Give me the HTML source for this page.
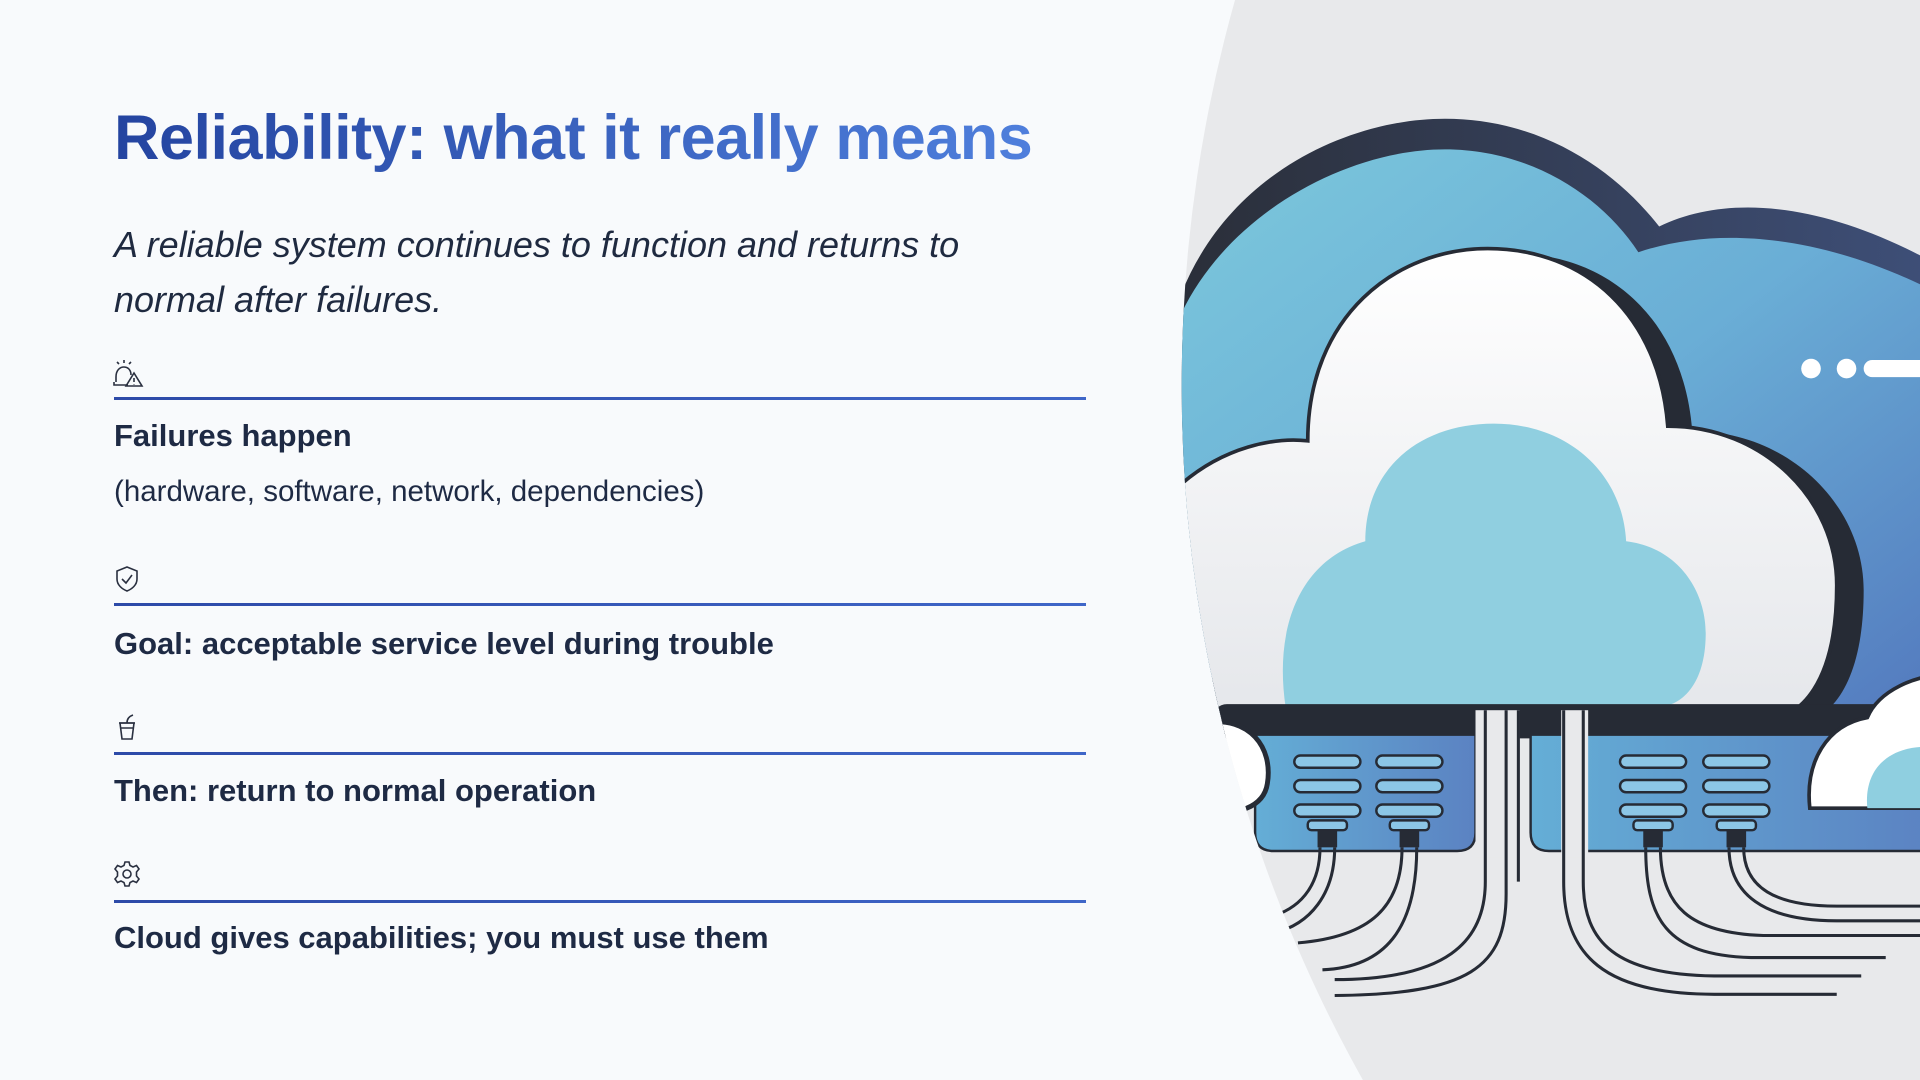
<!DOCTYPE html>
<html><head><meta charset="utf-8"><style>
html,body{margin:0;padding:0;width:1920px;height:1080px;overflow:hidden;background:#f8fafc;font-family:"Liberation Sans",sans-serif;}
.abs{position:absolute;}
h1{position:absolute;left:114px;top:103px;margin:0;font-size:63px;font-weight:bold;letter-spacing:-0.5px;line-height:70px;white-space:nowrap;
 background:linear-gradient(90deg,#2444a0,#4f7fdc);-webkit-background-clip:text;background-clip:text;color:transparent;}
.sub{position:absolute;left:114px;top:217px;font-size:36px;font-style:italic;color:#1f2a40;line-height:55px;white-space:nowrap;}
.line{position:absolute;left:114px;width:972px;height:3px;background:linear-gradient(90deg,#2d4aa8,#3f66c8);}
.t{position:absolute;left:114px;font-size:31px;font-weight:bold;color:#1e2a44;white-space:nowrap;line-height:36px;}
.s{position:absolute;left:114px;font-size:29.5px;color:#1e2a44;white-space:nowrap;line-height:34px;}
.ic{position:absolute;left:112px;}
</style></head><body>
<svg class="abs" style="left:0;top:0" width="1920" height="1080" viewBox="0 0 1568 882">
<defs>
<clipPath id="c"><circle cx="2125" cy="315" r="1160"/></clipPath>
<linearGradient id="bl" x1="0" y1="0" x2="1" y2="1"><stop offset="0" stop-color="#7cc8dc"/><stop offset="0.5" stop-color="#6aaed6"/><stop offset="1" stop-color="#5277bd"/></linearGradient>
<linearGradient id="dk" x1="0" x2="1"><stop offset="0" stop-color="#2a2e38"/><stop offset="1" stop-color="#3e4f78"/></linearGradient>
<linearGradient id="pn" x1="0" x2="1"><stop offset="0" stop-color="#64aed6"/><stop offset="1" stop-color="#5b82c2"/></linearGradient>
<linearGradient id="wh" x1="0" y1="0" x2="0" y2="1"><stop offset="0" stop-color="#ffffff"/><stop offset="1" stop-color="#e4e6ea"/></linearGradient>
</defs>
<g clip-path="url(#c)">
<rect x="900" y="0" width="700" height="882" fill="#e8e9eb"/>
<path d="M955,270 C985,150 1095,97 1180,97 C1260,97 1320,140 1355,185 C1410,158 1490,165 1580,215 L1580,600 L955,600 Z" fill="url(#dk)"/>
<path d="M962,262 C1000,175 1100,122 1180,122 C1250,122 1308,160 1338,206 C1400,185 1485,190 1580,238 L1580,600 L962,600 Z" fill="url(#bl)"/>
<path d="M990,600 L990,400 C1020,370 1060,360 1088,362 C1088,262 1160,207 1235,207 C1315,207 1375,262 1382,352 C1460,352 1522,412 1522,482 C1522,562 1492,592 1462,592 Z" fill="#262b35"/>
<path d="M965,600 L965,395 C1000,365 1040,357 1068,360 C1068,258 1140,203 1215,203 C1295,203 1355,258 1362,348 C1440,348 1500,408 1500,478 C1500,558 1470,588 1440,588 Z" fill="url(#wh)" stroke="#262b35" stroke-width="3"/>
<path d="M1050,578 C1040,512 1062,457 1115,442 C1115,382 1160,346 1220,346 C1280,346 1325,386 1328,442 C1370,447 1393,482 1393,517 C1393,557 1375,578 1350,578 Z" fill="#90cfe0"/>
<rect x="990" y="575" width="590" height="28" rx="12" fill="#262b35"/>
<path d="M1025,600 L1205,600 L1205,680 Q1205,695 1190,695 L1040,695 Q1025,695 1025,680 Z" fill="url(#pn)" stroke="#262b35" stroke-width="2"/>
<path d="M1250,600 L1580,600 L1580,695 L1265,695 Q1250,695 1250,680 Z" fill="url(#pn)" stroke="#262b35" stroke-width="2"/>
<path d="M985,665 L985,590 C1020,585 1040,610 1035,640 C1032,660 1010,665 985,665Z" fill="#fff" stroke="#262b35" stroke-width="4"/>
<path d="M1478,660 C1474,622 1492,592 1525,586 C1535,562 1568,552 1580,552 L1580,660 Z" fill="#fff" stroke="#262b35" stroke-width="3"/>
<path d="M1525,660 C1522,630 1540,612 1568,610 L1580,610 L1580,660 Z" fill="#8fcfe0"/>
<g fill="#8cc6e6" stroke="#262b35" stroke-width="2">
<rect x="1057" y="617" width="54" height="10" rx="5"/><rect x="1057" y="637" width="54" height="10" rx="5"/><rect x="1057" y="657" width="54" height="10" rx="5"/>
<rect x="1124" y="617" width="54" height="10" rx="5"/><rect x="1124" y="637" width="54" height="10" rx="5"/><rect x="1124" y="657" width="54" height="10" rx="5"/>
<rect x="1323" y="617" width="54" height="10" rx="5"/><rect x="1323" y="637" width="54" height="10" rx="5"/><rect x="1323" y="657" width="54" height="10" rx="5"/>
<rect x="1391" y="617" width="54" height="10" rx="5"/><rect x="1391" y="637" width="54" height="10" rx="5"/><rect x="1391" y="657" width="54" height="10" rx="5"/>
<rect x="1068" y="670" width="32" height="8" rx="3"/><rect x="1135" y="670" width="32" height="8" rx="3"/><rect x="1334" y="670" width="32" height="8" rx="3"/><rect x="1402" y="670" width="32" height="8" rx="3"/>
</g>
<g fill="#262b35"><rect x="1076" y="678" width="16" height="14"/><rect x="1143" y="678" width="16" height="14"/><rect x="1342" y="678" width="16" height="14"/><rect x="1410" y="678" width="16" height="14"/></g>
<rect x="1205" y="580" width="36" height="120" fill="#e8e9eb"/>
<rect x="1275" y="580" width="22" height="120" fill="#e8e9eb"/>
<g fill="none" stroke="#262b35" stroke-width="2.5">
<path d="M1078,692 C1078,720 1065,740 1040,748"/><path d="M1090,692 C1090,730 1070,755 1040,762"/>
<path d="M1145,692 C1145,740 1120,765 1060,770"/><path d="M1157,692 C1157,760 1130,790 1080,792"/>
<path d="M1213,580 L1213,720 C1213,770 1180,800 1090,800"/><path d="M1230,580 L1230,730 C1230,790 1200,812 1090,813"/><path d="M1240,580 L1240,720"/>
<path d="M1277,580 L1277,720 C1277,780 1310,812 1400,812 L1500,812"/><path d="M1293,580 L1293,720 C1293,770 1320,796 1400,797 L1520,797"/>
<path d="M1344,692 C1344,750 1360,780 1430,782 L1540,782"/><path d="M1356,692 C1356,740 1380,762 1440,764 L1580,764"/>
<path d="M1412,692 C1412,730 1440,752 1500,752 L1580,752"/><path d="M1424,692 C1424,725 1450,740 1500,740 L1580,740"/>
</g>
<g fill="#fff"><circle cx="1479" cy="301" r="8"/><circle cx="1508" cy="301" r="8"/><rect x="1522" y="294" width="60" height="14" rx="7"/></g>
</g>
</svg>

<h1>Reliability: what it really means</h1>
<div class="sub">A reliable system continues to function and returns to<br>normal after failures.</div>

<svg class="ic" style="top:358px" width="32" height="32" viewBox="0 0 32 32" fill="none" stroke="#2a3040" stroke-width="1.6"><path d="M4,24 L4,19 C4,12 8,9 12,9 C16,9 19,12 19,17"/><path d="M2,24 L2,27 L16,27"/><path d="M12,2 L12,5 M5,4 L7,6 M19,4 L17,6"/><path d="M22,15 L30,28 L14,28 Z"/><path d="M22,20 L22,24 M22,26 L22,26.5"/></svg>
<div class="line" style="top:397px"></div>
<div class="t" style="top:418px">Failures happen</div>
<div class="s" style="top:475px">(hardware, software, network, dependencies)</div>

<svg class="ic" style="top:564px" width="30" height="30" viewBox="0 0 30 30" fill="none" stroke="#2a3040" stroke-width="1.6"><path d="M15,3 L25,7 L25,15 C25,21 20,25 15,27 C10,25 5,21 5,15 L5,7 Z"/><path d="M10,15 L14,19 L20,11"/></svg>
<div class="line" style="top:603px"></div>
<div class="t" style="top:626px">Goal: acceptable service level during trouble</div>

<svg class="ic" style="top:712px" width="30" height="30" viewBox="0 0 30 30" fill="none" stroke="#2a3040" stroke-width="1.6"><path d="M8,11 L22,11 L20,27 L10,27 Z"/><path d="M7,11 L23,11 M9,16 L21,16"/><path d="M15,11 C15,6 18,4 21,3"/></svg>
<div class="line" style="top:752px"></div>
<div class="t" style="top:773px">Then: return to normal operation</div>

<svg class="ic" style="top:859px" width="30" height="30" viewBox="0 0 30 30" fill="none" stroke="#2a3040" stroke-width="1.6"><circle cx="15" cy="15" r="4"/><path d="M13,3 L17,3 L18,6.5 L21,8 L24.5,6.5 L27,10 L24.5,13 L24.5,17 L27,20 L24.5,23.5 L21,22 L18,23.5 L17,27 L13,27 L12,23.5 L9,22 L5.5,23.5 L3,20 L5.5,17 L5.5,13 L3,10 L5.5,6.5 L9,8 L12,6.5 Z"/></svg>
<div class="line" style="top:900px"></div>
<div class="t" style="top:920px">Cloud gives capabilities; you must use them</div>
</body></html>
